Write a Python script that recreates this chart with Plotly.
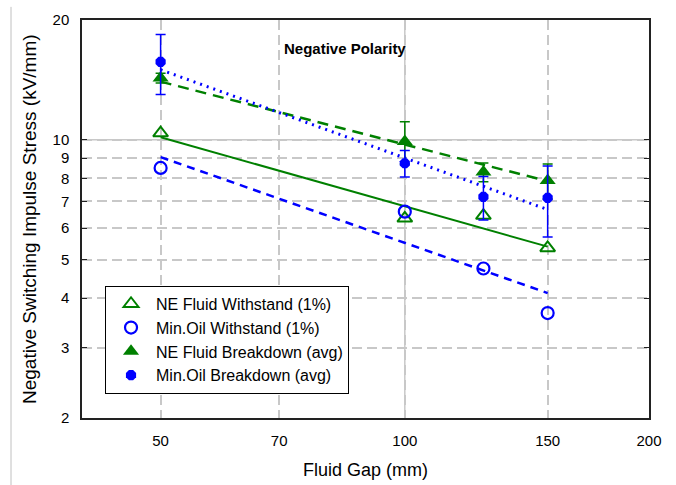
import plotly.graph_objects as go

# ---- data ----
gap = [50, 100, 125, 150]
ne_withstand = [10.4, 6.35, 6.45, 5.35]
oil_withstand = [8.5, 6.6, 4.75, 3.67]
ne_breakdown = [14.3, 9.9, 8.3, 7.9]
ne_breakdown_err = [0.4, 1.2, 0.45, 0.8]
oil_breakdown = [15.7, 8.73, 7.19, 7.15]
oil_breakdown_err = [2.7, 0.67, 0.9, 1.45]

fit_x = [50, 150]
ne_withstand_fit = [10.15, 5.39]
oil_withstand_fit = [9.05, 4.12]
ne_breakdown_fit = [14.0, 7.87]
oil_breakdown_fit = [15.0, 6.68]

x_ticks = [50, 70, 100, 150, 200]
y_ticks = [2, 3, 4, 5, 6, 7, 8, 9, 10, 20]

GREEN = "#008000"
BLUE = "#0000ff"
FONT = "Liberation Sans, Arial, sans-serif"

fig = go.Figure()

# fit lines
fig.add_trace(go.Scatter(x=fit_x, y=ne_withstand_fit, mode="lines",
                         line=dict(color=GREEN, width=2), showlegend=False, hoverinfo="skip"))
fig.add_trace(go.Scatter(x=fit_x, y=oil_withstand_fit, mode="lines",
                         line=dict(color=BLUE, width=2.5, dash="8px,6px"), showlegend=False, hoverinfo="skip"))
fig.add_trace(go.Scatter(x=fit_x, y=ne_breakdown_fit, mode="lines",
                         line=dict(color=GREEN, width=2.5, dash="11px,7px"), showlegend=False, hoverinfo="skip"))
fig.add_trace(go.Scatter(x=fit_x, y=oil_breakdown_fit, mode="lines",
                         line=dict(color=BLUE, width=3, dash="2px,5px"), showlegend=False, hoverinfo="skip"))

# data markers
fig.add_trace(go.Scatter(x=gap, y=ne_withstand, mode="markers", name="NE Fluid Withstand (1%)",
                         marker=dict(symbol="triangle-up-open", size=13, color=GREEN, line=dict(width=2, color=GREEN))))
fig.add_trace(go.Scatter(x=gap, y=oil_withstand, mode="markers", name="Min.Oil Withstand (1%)",
                         marker=dict(symbol="circle-open", size=12, color=BLUE, line=dict(width=2.2, color=BLUE))))
fig.add_trace(go.Scatter(x=gap, y=ne_breakdown, mode="markers", name="NE Fluid Breakdown (avg)",
                         marker=dict(symbol="triangle-up", size=14, color=GREEN),
                         error_y=dict(type="data", array=ne_breakdown_err, color=GREEN, thickness=1.5, width=5)))
fig.add_trace(go.Scatter(x=gap, y=oil_breakdown, mode="markers", name="Min.Oil Breakdown (avg)",
                         marker=dict(symbol="octagon", size=11, color=BLUE),
                         error_y=dict(type="data", array=oil_breakdown_err, color=BLUE, thickness=1.5, width=5)))

# solid gridlines at 100 and 10
fig.add_shape(type="line", xref="x", yref="paper", x0=100, x1=100, y0=0, y1=1,
              line=dict(color="#c8c8c8", width=1.5), layer="below")
fig.add_shape(type="line", xref="paper", yref="y", x0=0, x1=1, y0=10, y1=10,
              line=dict(color="#c8c8c8", width=1.5), layer="below")
# thin gray frame line at far left of the image
fig.add_shape(type="line", xref="paper", yref="paper", x0=-0.1252, x1=-0.1252, y0=1.033, y1=-0.2,
              line=dict(color="#c0c0c0", width=1))

fig.update_layout(
    width=676, height=485,
    margin=dict(l=82, r=27, t=20, b=67),
    paper_bgcolor="white", plot_bgcolor="white",
    font=dict(family=FONT, color="black", size=15),
    legend=dict(x=0.0406, y=0.332, xanchor="left", yanchor="top",
                bordercolor="black", borderwidth=1, bgcolor="white",
                font=dict(family=FONT, size=16, color="black"),
                itemwidth=40, tracegroupgap=0),
    annotations=[
        dict(text="<b>Negative Polarity</b>", x=0.4638, y=0.9296, xref="paper", yref="paper",
             xanchor="center", yanchor="middle",
             showarrow=False, font=dict(family=FONT, size=15, color="black")),
        dict(text="Negative Switching Impulse Stress (kV/mm)", x=-0.0935, y=0.5,
             xref="paper", yref="paper", textangle=-90, showarrow=False,
             xanchor="center", yanchor="middle",
             font=dict(family=FONT, size=19, color="black")),
        dict(text="Fluid Gap (mm)", x=0.5, y=-0.131, xref="paper", yref="paper",
             xanchor="center", yanchor="middle",
             showarrow=False, font=dict(family=FONT, size=18, color="black")),
    ],
)

fig.update_xaxes(type="log", range=[1.60206, 2.30103], tickvals=x_ticks, ticktext=[str(v) for v in x_ticks],
                 showgrid=True, gridcolor="#c8c8c8", griddash="10px,5px", gridwidth=1.5,
                 showline=True, linecolor="#222222", linewidth=1.5, mirror=True,
                 ticks="", ticklabelstandoff=8, zeroline=False,
                 tickfont=dict(family=FONT, size=15, color="black"))
fig.update_yaxes(type="log", range=[0.30103, 1.30103], tickvals=y_ticks, ticktext=[str(v) for v in y_ticks],
                 showgrid=True, gridcolor="#c8c8c8", griddash="10px,5px", gridwidth=1.5,
                 showline=True, linecolor="#222222", linewidth=1.5, mirror="ticks",
                 ticks="inside", ticklen=5, tickcolor="#222222", ticklabelstandoff=8, zeroline=False,
                 tickfont=dict(family=FONT, size=15, color="black"))

fig.write_html("out.html", config={"displayModeBar": False},
               post_script="document.body.style.margin='0';document.body.style.overflow='hidden';")
